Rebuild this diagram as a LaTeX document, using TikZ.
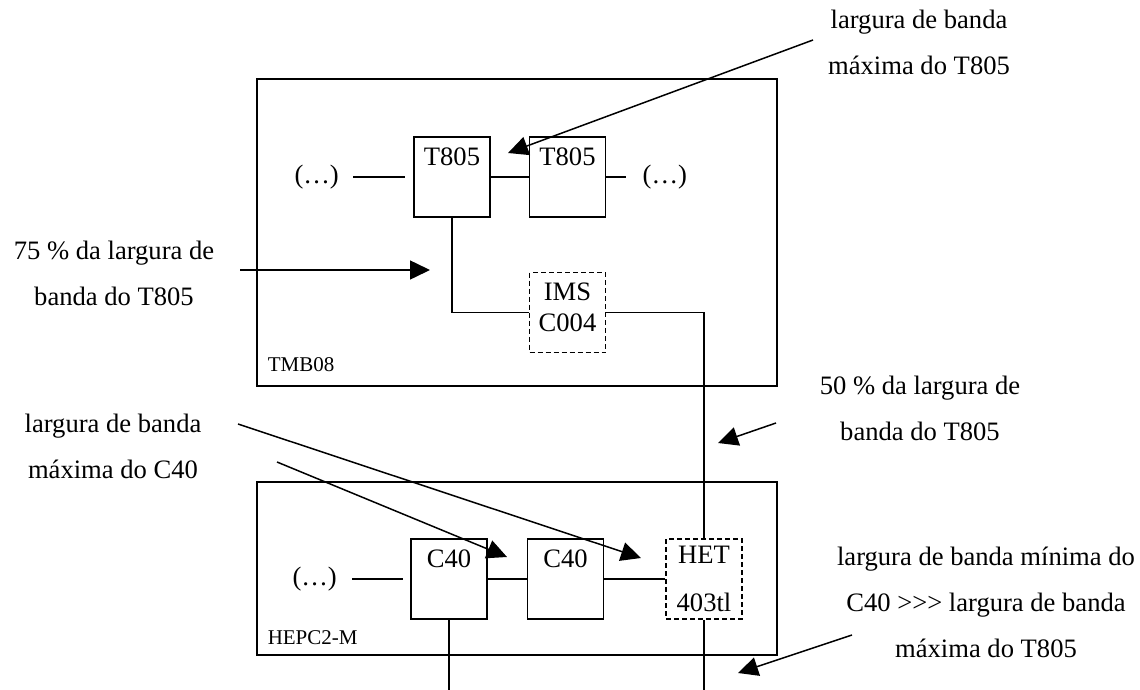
\documentclass[tikz,border=0pt]{standalone}
\usepackage{fontspec}
\setmainfont{Liberation Serif}[Ligatures=TeXOff]
\usetikzlibrary{arrows.meta, positioning}

\begin{document}
\begin{tikzpicture}[
    x=0.5pt, y=-0.5pt,
    line width=0.75pt,
    node distance=19pt,
    board/.style={rectangle, draw, minimum width=260pt},
    chip/.style={rectangle, draw, minimum width=38pt, minimum height=40pt, inner sep=0pt, text height=14pt, text depth=26pt, font=\fontsize{13.3}{16}\selectfont},
    bridge/.style={rectangle, draw, dash pattern=on 2.5pt off 1.5pt, minimum width=38pt, minimum height=40pt, inner sep=0pt, align=center},
    dots/.style={font=\fontsize{13.3}{16}\selectfont},
    tag/.style={font=\fontsize{10.5}{12}\selectfont, inner sep=0pt},
    note/.style={align=center, font=\fontsize{13.3}{23}\selectfont},
    wire/.style={draw},
    line/.style={draw, -{Triangle[length=10pt, width=9.5pt]}}
]
\useasboundingbox (0,0) rectangle (1140,690);

% boards
\node [board, minimum height=153.5pt] (tmb) at (517,232.5) {};
\node [tag, anchor=base west] (tmbName) at (267,371) {TMB08};
\node [board, minimum height=86.5pt] (hepc) at (517,568.5) {};
\node [tag, anchor=base west] (hepcName) at (267,644) {HEPC2-M};

% TMB08
\node [chip] (t805a) at (452,177) {T805};
\node [chip, right=of t805a] (t805b) {T805};
\node [dots, left=33.5pt of t805a] (dotsTl) {(…)};
\node [dots, right=14.5pt of t805b] (dotsTr) {(…)};
\node [bridge, below=27pt of t805b, font=\fontsize{13.3}{15.5}\selectfont, text depth=5pt] (ims) {IMS\\C004};

% HEPC2-M
\node [chip] (c40a) at (449,579) {C40};
\node [chip, right=19.5pt of c40a] (c40b) {C40};
\node [bridge, right=30.5pt of c40b, font=\fontsize{13.3}{24}\selectfont] (het) {HET\\403tl};
\node [dots, left=33pt of c40a] (dotsB) {(…)};

\coordinate (floor) at (0,690);

\path [wire, shorten <=3.5pt, shorten >=4pt] (dotsTl) -- (t805a);
\path [wire] (t805a) -- (t805b);
\path [wire, shorten >=4.5pt] (t805b) -- (dotsTr);
\path [wire] (t805a.south) |- (ims);
\path [wire] (ims) -| (het);
\path [wire, shorten <=4pt, shorten >=3.5pt] (dotsB) -- (c40a);
\path [wire] (c40a) -- (c40b);
\path [wire] (c40b) -- (het);
\path [wire] (c40a.south) -- (c40a.south |- floor);
\path [wire] (het.south) -- (het.south |- floor);

% notes
\node [note] (bwT805) at (919,42) {largura de banda\\máxima do T805};
\node [note] (quarter) at (114,273) {75 \% da largura de\\banda do T805};
\node [note] (bwC40) at (113,446) {largura de banda\\máxima do C40};
\node [note] (half) at (920,408) {50 \% da largura de\\banda do T805};
\node [note] (ratio) at (986,602) {largura de banda mínima do\\C40 >>> largura de banda\\máxima do T805};

\coordinate (bwT805From) at (813,40);
\coordinate (bwT805Tip) at (508,153);
\coordinate (quarterFrom) at (240,270);
\coordinate (quarterTip) at (430,270);
\coordinate (halfFrom) at (776,423);
\coordinate (halfTip) at (718,443);
\coordinate (bwC40From) at (238,424);
\coordinate (bwC40Tip) at (641,558);
\coordinate (bwC40From2) at (277,462);
\coordinate (bwC40Tip2) at (507,557);
\coordinate (ratioFrom) at (852,635);
\coordinate (ratioTip) at (738,673);

\path [line] (bwT805From) -- (bwT805Tip);
\path [line] (quarterFrom) -- (quarterTip);
\path [line] (halfFrom) -- (halfTip);
\path [line] (bwC40From) -- (bwC40Tip);
\path [line] (bwC40From2) -- (bwC40Tip2);
\path [line] (ratioFrom) -- (ratioTip);

\end{tikzpicture}
\end{document}
